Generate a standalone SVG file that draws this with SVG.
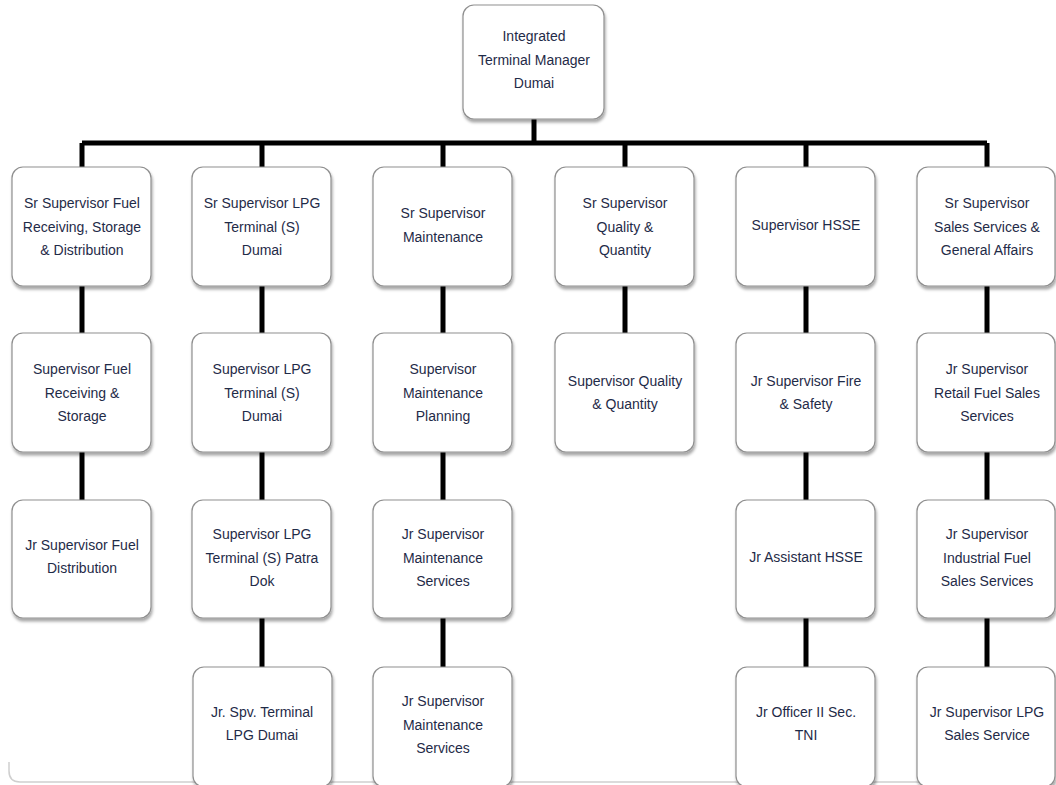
<svg xmlns="http://www.w3.org/2000/svg" width="1056" height="785" viewBox="0 0 1056 785">
<defs>
<filter id="sh" x="-10%" y="-10%" width="125%" height="130%">
<feDropShadow dx="1" dy="3" stdDeviation="1.8" flood-color="#000" flood-opacity="0.35"/>
</filter>
<style>
.box{fill:#fff;stroke:#8f8f8f;stroke-width:1.2;filter:url(#sh)}
.t{font-family:"Liberation Sans",Arial,sans-serif;font-size:14px;fill:#1f2b48;text-anchor:middle}
.c{stroke:#000;stroke-width:5;fill:none}
</style>
</defs>
<rect width="1056" height="785" fill="#fff"/>
<path d="M9,762 V771 Q9,782 20,782 H1053" fill="none" stroke="#cfcfcf" stroke-width="1.5"/>
<g id="connectors">
<path class="c" d="M534,119 V143 M82,143 H987 M82,143 V167 M262,143 V167 M443,143 V167 M625,143 V167 M806,143 V167 M987,143 V167"/>
<path class="c" d="M82,286 V333 M82,452 V500"/>
<path class="c" d="M262,286 V333 M262,452 V500 M262,618 V667"/>
<path class="c" d="M443,286 V333 M443,452 V500 M443,618 V667"/>
<path class="c" d="M625,286 V333"/>
<path class="c" d="M806,286 V333 M806,452 V500 M806,618 V667"/>
<path class="c" d="M987,286 V333 M987,452 V500 M987,618 V667"/>
</g>
<g id="n0"><rect class="box" x="463" y="5" width="141" height="114" rx="11"/>
<text class="t" x="534" y="41">Integrated</text><text class="t" x="534" y="65">Terminal Manager</text><text class="t" x="534" y="88">Dumai</text></g>

<g id="n11"><rect class="box" x="12" y="167" width="139" height="119" rx="11"/>
<text class="t" x="82" y="208">Sr Supervisor Fuel</text><text class="t" x="82" y="232">Receiving, Storage</text><text class="t" x="82" y="255">&amp; Distribution</text></g>
<g id="n12"><rect class="box" x="12" y="333" width="139" height="119" rx="11"/>
<text class="t" x="82" y="374">Supervisor Fuel</text><text class="t" x="82" y="398">Receiving &amp;</text><text class="t" x="82" y="421">Storage</text></g>
<g id="n13"><rect class="box" x="12" y="500" width="139" height="118" rx="11"/>
<text class="t" x="82" y="550">Jr Supervisor Fuel</text><text class="t" x="82" y="573">Distribution</text></g>

<g id="n21"><rect class="box" x="192" y="167" width="139" height="119" rx="11"/>
<text class="t" x="262" y="208">Sr Supervisor LPG</text><text class="t" x="262" y="232">Terminal (S)</text><text class="t" x="262" y="255">Dumai</text></g>
<g id="n22"><rect class="box" x="192" y="333" width="139" height="119" rx="11"/>
<text class="t" x="262" y="374">Supervisor LPG</text><text class="t" x="262" y="398">Terminal (S)</text><text class="t" x="262" y="421">Dumai</text></g>
<g id="n23"><rect class="box" x="192" y="500" width="139" height="118" rx="11"/>
<text class="t" x="262" y="539">Supervisor LPG</text><text class="t" x="262" y="563">Terminal (S) Patra</text><text class="t" x="262" y="586">Dok</text></g>
<g id="n24"><rect class="box" x="193" y="667" width="139" height="120" rx="11"/>
<text class="t" x="262" y="717">Jr. Spv. Terminal</text><text class="t" x="262" y="740">LPG Dumai</text></g>

<g id="n31"><rect class="box" x="373" y="167" width="139" height="119" rx="11"/>
<text class="t" x="443" y="218">Sr Supervisor</text><text class="t" x="443" y="242">Maintenance</text></g>
<g id="n32"><rect class="box" x="373" y="333" width="139" height="119" rx="11"/>
<text class="t" x="443" y="374">Supervisor</text><text class="t" x="443" y="398">Maintenance</text><text class="t" x="443" y="421">Planning</text></g>
<g id="n33"><rect class="box" x="373" y="500" width="139" height="118" rx="11"/>
<text class="t" x="443" y="539">Jr Supervisor</text><text class="t" x="443" y="563">Maintenance</text><text class="t" x="443" y="586">Services</text></g>
<g id="n34"><rect class="box" x="373" y="667" width="139" height="120" rx="11"/>
<text class="t" x="443" y="706">Jr Supervisor</text><text class="t" x="443" y="730">Maintenance</text><text class="t" x="443" y="753">Services</text></g>

<g id="n41"><rect class="box" x="555" y="167" width="139" height="119" rx="11"/>
<text class="t" x="625" y="208">Sr Supervisor</text><text class="t" x="625" y="232">Quality &amp;</text><text class="t" x="625" y="255">Quantity</text></g>
<g id="n42"><rect class="box" x="555" y="333" width="139" height="119" rx="11"/>
<text class="t" x="625" y="386">Supervisor Quality</text><text class="t" x="625" y="409">&amp; Quantity</text></g>

<g id="n51"><rect class="box" x="736" y="167" width="139" height="119" rx="11"/>
<text class="t" x="806" y="230">Supervisor HSSE</text></g>
<g id="n52"><rect class="box" x="736" y="333" width="139" height="119" rx="11"/>
<text class="t" x="806" y="386">Jr Supervisor Fire</text><text class="t" x="806" y="409">&amp; Safety</text></g>
<g id="n53"><rect class="box" x="736" y="500" width="139" height="118" rx="11"/>
<text class="t" x="806" y="562">Jr Assistant HSSE</text></g>
<g id="n54"><rect class="box" x="736" y="667" width="139" height="120" rx="11"/>
<text class="t" x="806" y="717">Jr Officer II Sec.</text><text class="t" x="806" y="740">TNI</text></g>

<g id="n61"><rect class="box" x="917" y="167" width="138" height="119" rx="11"/>
<text class="t" x="987" y="208">Sr Supervisor</text><text class="t" x="987" y="232">Sales Services &amp;</text><text class="t" x="987" y="255">General Affairs</text></g>
<g id="n62"><rect class="box" x="917" y="333" width="138" height="119" rx="11"/>
<text class="t" x="987" y="374">Jr Supervisor</text><text class="t" x="987" y="398">Retail Fuel Sales</text><text class="t" x="987" y="421">Services</text></g>
<g id="n63"><rect class="box" x="917" y="500" width="138" height="118" rx="11"/>
<text class="t" x="987" y="539">Jr Supervisor</text><text class="t" x="987" y="563">Industrial Fuel</text><text class="t" x="987" y="586">Sales Services</text></g>
<g id="n64"><rect class="box" x="917" y="667" width="138" height="120" rx="11"/>
<text class="t" x="987" y="717">Jr Supervisor LPG</text><text class="t" x="987" y="740">Sales Service</text></g>
</svg>
